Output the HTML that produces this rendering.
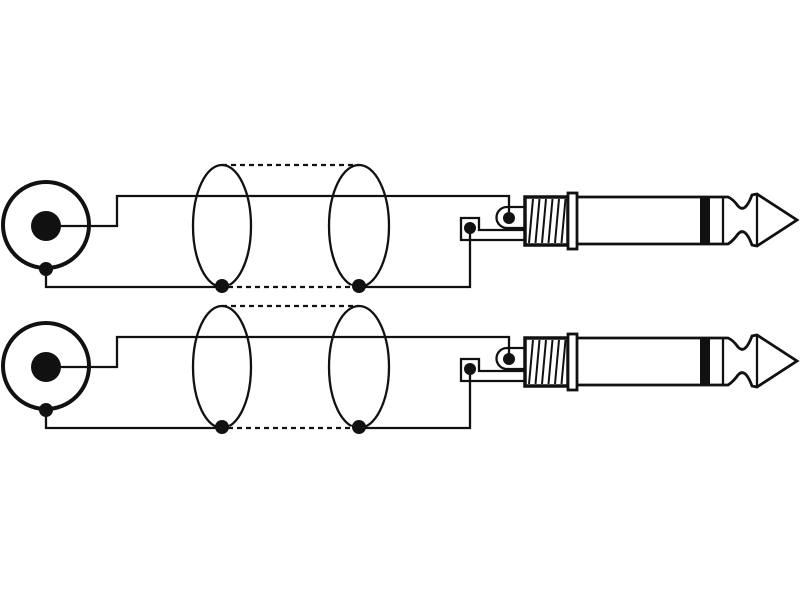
<!DOCTYPE html>
<html><head><style>html,body{margin:0;padding:0;background:#fff}</style></head><body>
<svg width="800" height="600" viewBox="0 0 800 600" xmlns="http://www.w3.org/2000/svg">
<defs>
<g id="row" fill="none" stroke="#111" stroke-width="2.3">
  <circle cx="46" cy="225" r="43" stroke-width="4"/>
  <circle cx="46" cy="226" r="15" fill="#111" stroke="none"/>
  <circle cx="46" cy="269" r="7" fill="#111" stroke="none"/>
  <polyline points="60,226 117,226 117,196 509,196 509,214"/>
  <polyline points="46,269 46,287 470,287 470,232"/>
  <ellipse cx="222" cy="226" rx="29" ry="61"/>
  <ellipse cx="359" cy="226" rx="30" ry="61"/>
  <line x1="222" y1="165" x2="359" y2="165" stroke-dasharray="5,4"/>
  <line x1="228" y1="287" x2="354" y2="287" stroke="#fff" stroke-width="3"/>
  <line x1="228" y1="287" x2="354" y2="287" stroke-dasharray="5,4"/>
  <circle cx="222" cy="286" r="7" fill="#111" stroke="none"/>
  <circle cx="359" cy="286" r="7" fill="#111" stroke="none"/>
  <path d="M525,207 L507,207 A10.5,10.5 0 0 0 507,228 L525,228"/>
  <circle cx="509" cy="218" r="6" fill="#111" stroke="none"/>
  <path d="M525,230 L479,230 L479,218 L461,218 L461,240 L525,240"/>
  <circle cx="470" cy="228" r="6" fill="#111" stroke="none"/>
  <rect x="525" y="197" width="43" height="48" stroke-width="3.5"/>
  <g stroke-width="2">
    <line x1="533" y1="199" x2="529" y2="243"/>
    <line x1="539.5" y1="199" x2="535.5" y2="243"/>
    <line x1="546" y1="199" x2="542" y2="243"/>
    <line x1="552.5" y1="199" x2="548.5" y2="243"/>
    <line x1="559" y1="199" x2="555" y2="243"/>
    <line x1="565.5" y1="199" x2="561.5" y2="243"/>
  </g>
  <rect x="568" y="193" width="9" height="56" stroke-width="2.8" fill="#fff"/>
  <path d="M577,197 L728,197 Q733,199 738,206 Q745,214 752,195 L757,194 L797,220 L757,246 L752,245 Q745,226 738,234 Q733,241 728,244 L577,244" stroke-width="2.8"/>
  <rect x="700" y="197" width="10" height="47" fill="#111" stroke="none"/>
  <line x1="723" y1="197" x2="723" y2="244"/>
  <line x1="757" y1="195" x2="757" y2="245"/>
</g>
</defs>
<use href="#row"/>
<use href="#row" transform="translate(0,141)"/>
</svg>
</body></html>
